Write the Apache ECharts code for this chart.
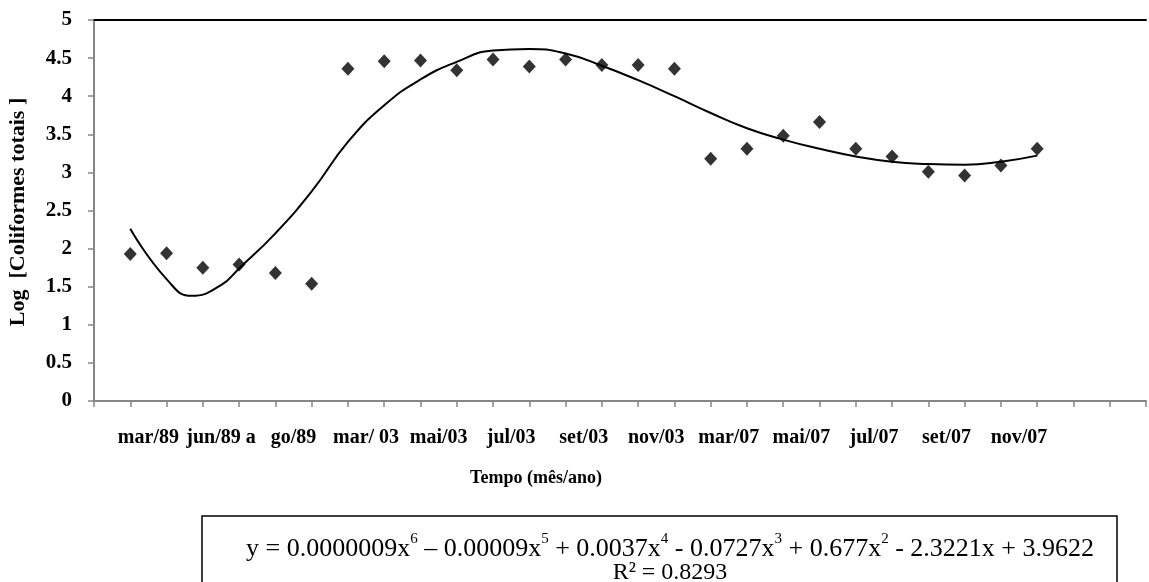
<!DOCTYPE html>
<html>
<head>
<meta charset="utf-8">
<script src="https://cdn.jsdelivr.net/npm/echarts@6/dist/echarts.min.js"></script>
<style>
html,body{margin:0;padding:0;background:#fff;}
#chart{width:1149px;height:582px;}
</style>
</head>
<body>
<div id="chart"></div>
<script>
// Month index (1..26) of each sample
var sampleX = [1,2,3,4,5,6,7,8,9,10,11,12,13,14,15,16,17,18,19,20,21,22,23,24,25,26];
// Log [Coliformes totais] per sample
var logColiformes = [1.93,1.94,1.75,1.79,1.68,1.54,4.36,4.46,4.47,4.34,4.48,4.39,4.48,4.41,4.41,4.36,3.18,3.31,3.48,3.66,3.31,3.21,3.01,2.96,3.09,3.31];
// Polynomial trendline
var trendX = [1,2,2.7,3.5,4,5,6,7,8,9,10,11,12,13,14,15,16,17,18,19,20,21,22,23,24,25,26];
var trendY = [2.26,1.60,1.38,1.52,1.74,2.20,2.75,3.40,3.88,4.22,4.45,4.60,4.62,4.56,4.40,4.21,4.00,3.78,3.58,3.43,3.31,3.21,3.14,3.11,3.10,3.14,3.22];
// Category labels (every second month)
var xLabels = ['mar/89','jun/89 a','go/89','mar/ 03','mai/03','jul/03','set/03','nov/03','mar/07','mai/07','jul/07','set/07','nov/07'];
var yTitle = 'Log  [Coliformes totais ]';
var xTitle = 'Tempo (mês/ano)';
var rSquared = 'R² = 0.8293';

var FONT = '"Liberation Serif", "Times New Roman", serif';
var GREY = '#868686';

var scatterData = sampleX.map(function(x,i){return [x, logColiformes[i]];});
var trendData = trendX.map(function(x,i){return [x, trendY[i]];});

var chart = echarts.init(document.getElementById('chart'), null, {renderer:'canvas'});
chart.setOption({
  animation:false,
  backgroundColor:'#fff',
  grid:{left:94, top:20, right:-9, bottom:181},
  xAxis:[
    {type:'value', position:'bottom', min:0, max:29, interval:1,
     axisLine:{lineStyle:{color:GREY, width:2}},
     axisTick:{show:true, length:6, lineStyle:{color:GREY, width:1.5}},
     axisLabel:{show:false}, splitLine:{show:false}},
    {type:'value', position:'bottom', min:0, max:29, interval:0.5,
     axisLine:{show:false}, axisTick:{show:false}, splitLine:{show:false},
     axisLabel:{show:true, margin:27, color:'#000', fontFamily:FONT, fontWeight:'bold', fontSize:20,
       formatter:function(v){
         var k=(v-1.5)/2;
         if (Math.abs(k-Math.round(k))<1e-6 && k>=0 && k<xLabels.length) return xLabels[Math.round(k)];
         return '';
       }}},
    {type:'value', position:'top', min:0, max:29, interval:1,
     axisLine:{lineStyle:{color:'#000', width:2}},
     axisTick:{show:false}, axisLabel:{show:false}, splitLine:{show:false}}
  ],
  yAxis:{type:'value', min:0, max:5, interval:0.5,
    axisLine:{show:true, lineStyle:{color:GREY, width:2}},
    axisTick:{show:true, length:6, lineStyle:{color:GREY, width:1.5}},
    splitLine:{show:false},
    axisLabel:{margin:22, color:'#000', fontFamily:FONT, fontWeight:'bold', fontSize:21}},
  series:[
    {type:'line', xAxisIndex:0, data:trendData, smooth:0.5, showSymbol:false,
     lineStyle:{color:'#000', width:2}, z:2},
    {type:'scatter', xAxisIndex:0, data:scatterData, symbol:'diamond', symbolSize:[13,14],
     itemStyle:{color:'#000'}, z:3}
  ],
  graphic:[
    {type:'text', x:18, y:212, rotation:Math.PI/2,
     style:{text:yTitle, font:'bold 22px '+FONT, fill:'#000', align:'center', verticalAlign:'middle'}},
    {type:'text', x:536, y:478,
     style:{text:xTitle, font:'bold 18px '+FONT, fill:'#000', align:'center', verticalAlign:'middle'}},
    {type:'rect', shape:{x:202, y:516, width:915, height:80},
     style:{fill:'none', stroke:'#000', lineWidth:1.5}},
    {type:'text', x:670, y:547,
     style:{
       text:'{n|y = 0.0000009x}{s|6}{n| – 0.00009x}{s|5}{n| + 0.0037x}{s|4}{n| - 0.0727x}{s|3}{n| + 0.677x}{s|2}{n| - 2.3221x + 3.9622}',
       align:'center', verticalAlign:'middle',
       rich:{
         n:{fontFamily:FONT, fontSize:26, fill:'#000', lineHeight:30, verticalAlign:'bottom'},
         s:{fontFamily:FONT, fontSize:15, fill:'#000', lineHeight:30, verticalAlign:'top'}
       }}},
    {type:'text', x:670, y:573,
     style:{text:rSquared, font:'24px '+FONT, fill:'#000', align:'center', verticalAlign:'middle'}}
  ]
});
</script>
</body>
</html>
